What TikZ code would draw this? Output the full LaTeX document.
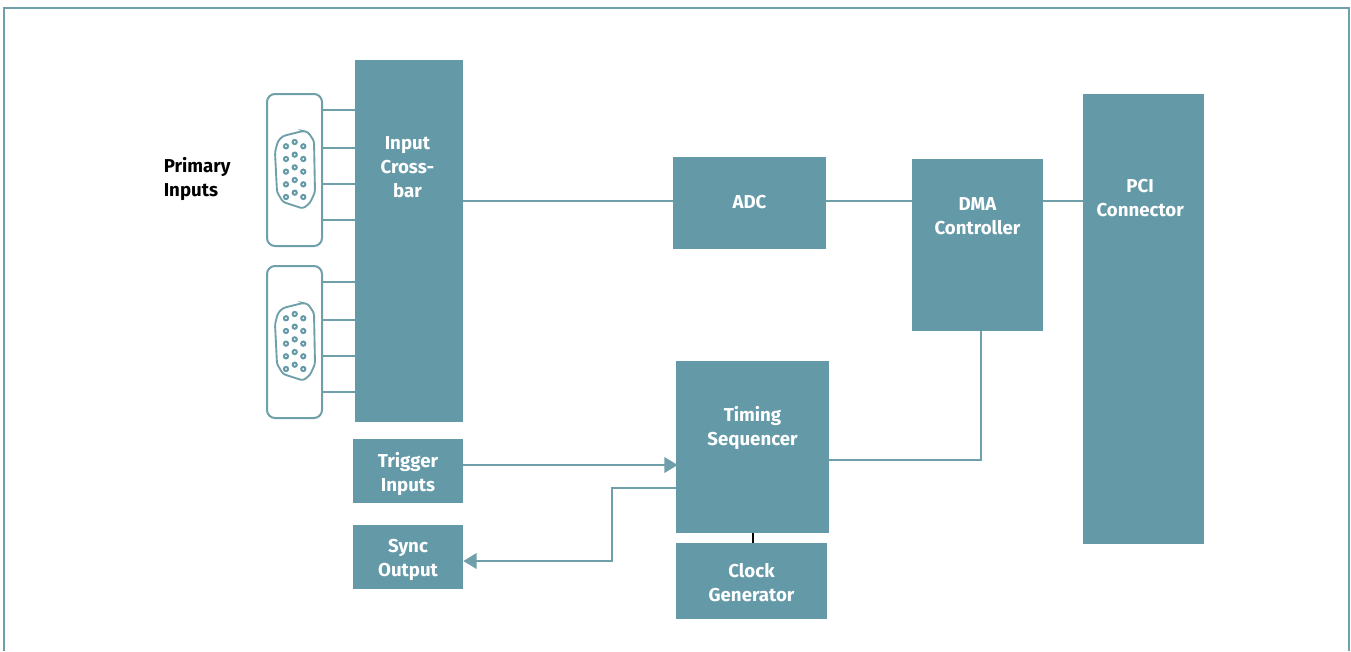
\documentclass[tikz,border=0pt]{standalone}
\usepackage{fontspec}
\setmainfont{Fira Sans}
\usepackage{xcolor}
\usetikzlibrary{arrows.meta, positioning, calc}
\definecolor{boardteal}{HTML}{6499A8}
\definecolor{frameteal}{HTML}{6FA0AA}

\begin{document}
\begin{tikzpicture}[x=0.75pt, y=-0.75pt, node distance=15.9pt and 0pt,
  box/.style={fill=boardteal, text=white, align=center, inner sep=0pt,
    font=\fontsize{14}{18}\selectfont\bfseries},
  boxlabel/.style={text=white, align=center, inner sep=0pt,
    font=\fontsize{14}{18}\selectfont\bfseries},
  link/.style={draw=frameteal, line width=1.8pt},
  arrow/.style={link, -{Triangle[length=10pt, width=11.5pt]}},
  socket/.style={draw=frameteal, line width=1.5pt, fill=white, rounded corners=6pt,
    minimum width=41.25pt, minimum height=114pt, inner sep=0pt},
  shell/.style={draw=frameteal, line width=1.4pt, rounded corners=2pt},
  pin/.style={draw=boardteal, line width=1.5pt, fill=white}]
  \useasboundingbox (0,0) rectangle (1351,651);
  \coordinate (fbl) at (4,651);
  \coordinate (fbr) at (1349,651);
  \draw[frameteal, line width=1.7pt] (fbl) |- (fbr |- 0,8) -- (fbr);

  % boxes
  \node[box, minimum width=81pt, minimum height=271.5pt,
    label={[boxlabel, xshift=-1.2pt, yshift=55pt]center:Input\\Cross-\\bar}] (cross) at (409,241) {};
  \node[box, minimum width=114.75pt, minimum height=69pt] (adc) at (749.5,203) {\raisebox{1pt}{ADC}};
  \node[box, minimum width=98.25pt, minimum height=129pt,
    label={[boxlabel, yshift=21.4pt]center:DMA\\Controller}] (dma) at (977.5,245) {};
  \node[box, minimum width=90.75pt, minimum height=337.5pt,
    label={[boxlabel, xshift=-2.5pt, yshift=91pt]center:PCI\\Connector}] (pci) at (1143.5,319) {};
  \node[box, minimum width=114.75pt, minimum height=129pt,
    label={[boxlabel, yshift=13.9pt]center:Timing\\Sequencer}] (timing) at (752.5,447) {};
  \node[box, minimum width=113.25pt, minimum height=57pt,
    label={[boxlabel, yshift=-1.4pt]center:Clock\\Generator}] (clock) at (751.5,581) {};
  \node[box, minimum width=82.5pt, minimum height=48pt,
    label={[boxlabel, yshift=-2.2pt]center:Trigger\\Inputs}] (trigger) at (408,471) {};
  \node[box, minimum width=82.5pt, minimum height=48pt, below=of trigger,
    label={[boxlabel, yshift=-2.4pt]center:Sync\\Output}] (sync) {};
  \node[align=left, inner sep=0pt, anchor=west, text=black,
    font=\fontsize{14}{18}\selectfont\bfseries] (primary) at (163.5,178.5) {Primary\\Inputs};

  % connectors
  \foreach \n/\yo in {a/0, b/172} {
    \node[socket] (socket\n) at (294.5,170+\yo) {};
    \foreach \w in {16, 54, 90, 126}
      \draw[link] (socket\n.east |- 0,94+\yo+\w) -- (cross.west |- 0,94+\yo+\w);
    \begin{scope}[shift={(0,\yo)}]
      \draw[shell] (303,131) -- (308,132) -- (314,141) -- (315,192) -- (310,203)
        -- (303,208.5) -- (283,202) -- (277,192) -- (275,152) -- (278,141) -- (283,136) -- cycle;
      \foreach \c in {0,1,2,3,4} {
        \draw[pin] (286,146.3+12.67*\c) circle (2.1);
        \draw[pin] (294.7,142+12.67*\c) circle (2.1);
        \draw[pin] (303.3,146.3+12.67*\c) circle (2.1);
      }
    \end{scope}
  }

  % wiring
  \draw[link] (cross.east |- 0,201) -- (adc.west |- 0,201);
  \draw[link] (adc.east |- 0,201) -- (dma.west |- 0,201);
  \draw[link] (dma.east |- 0,201) -- (pci.west |- 0,201);
  \draw[link] (timing.east |- 0,460) -| (981,0 |- dma.south);
  \draw[arrow] (trigger.east |- 0,465) -- ([xshift=1.5pt]timing.west |- 0,465);
  \draw[arrow] (timing.west |- 0,488) -| (612,561) -- (sync.east |- 0,561);
  \draw[black, line width=1.5pt] (753,0 |- timing.south) -- (753,0 |- clock.north);
\end{tikzpicture}
\end{document}
